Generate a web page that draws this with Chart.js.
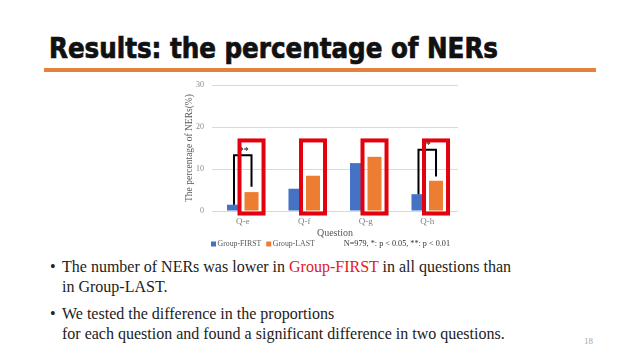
<!DOCTYPE html>
<html>
<head>
<meta charset="utf-8">
<script src="https://cdn.jsdelivr.net/npm/chart.js@4.4.1/dist/chart.umd.min.js"></script>
<style>
  html, body { margin: 0; padding: 0; background: #fff; }
  body { width: 640px; height: 360px; position: relative; overflow: hidden;
         font-family: "Liberation Serif", "Times New Roman", serif; color: #222; }
  #titulo { position: absolute; left: 49px; top: 35px; white-space: nowrap;
            font-family: "DejaVu Sans", sans-serif; font-stretch: condensed;
            font-weight: bold; font-size: 28px; line-height: 28px; color: #111;
            -webkit-text-stroke: 0.7px #111; transform-origin: 0 0; }
  #linha { position: absolute; left: 44px; top: 68px; width: 552px; height: 4px; background: #e5813e; }
  #caixa { position: absolute; left: 180px; top: 78px; width: 285px; height: 175px; }
  .item { position: absolute; left: 62px; white-space: nowrap;
          font-family: "Liberation Serif", "Times New Roman", serif; font-size: 16px; line-height: 19.5px; }
  .item::before { content: "\2022"; position: absolute; left: -12px; }
  .vermelho { color: #e0201b; }
  #pagina { position: absolute; left: 584px; top: 336px; font-size: 9px; color: #a6a6a6; }
</style>
</head>
<body>
<div id="titulo">Results: the percentage of NERs</div>
<div id="linha"></div>
<div id="caixa"><canvas id="grafico" width="285" height="175"></canvas></div>
<div class="item" style="top:257px">The number of NERs was lower in <span class="vermelho">Group-FIRST</span> in all questions than<br>in Group-LAST.</div>
<div class="item" style="top:304px">We tested the difference in the proportions<br>for each question and found a significant difference in two questions.</div>
<div id="pagina">18</div>
<script>
const categorias = ["Q-e", "Q-f", "Q-g", "Q-h"];
const grupoFirst = [1.5, 5.3, 11.4, 4.0];
const grupoLast = [4.5, 8.4, 12.9, 7.2];
const nomes = ["Group-FIRST", "Group-LAST"];
const ticksY = [0, 10, 20, 30];

// colchetes de significancia (valores em %)
const marcasSig = ["**", "", "", "*"];
const colcheteTopo = [13.3, null, null, 14.6];
const colcheteFim = [5.8, null, null, 8.2];

// caixas vermelhas em volta das barras Group-LAST
const caixaTopo = 16.8;
const caixaBase = -0.6;

const nota = "N=979, *: p < 0.05, **: p < 0.01";
const fonte = "'Liberation Serif', 'Times New Roman', serif";

// ajusta a largura do titulo
const titulo = document.getElementById("titulo");
const larguraTitulo = titulo.getBoundingClientRect().width;
titulo.style.transform = "scaleX(" + (449 / larguraTitulo) + ")";

const marcas = {
  id: "marcas",
  afterDatasetsDraw(chart) {
    const ctx = chart.ctx;
    const y = chart.scales.y;
    const azul = chart.getDatasetMeta(0).data;
    const laranja = chart.getDatasetMeta(1).data;
    ctx.save();
    ctx.strokeStyle = "#000";
    ctx.lineWidth = 2;
    ctx.fillStyle = "#000";
    ctx.font = "10px " + fonte;
    ctx.textAlign = "center";
    ctx.textBaseline = "bottom";
    categorias.forEach((c, i) => {
      if (colcheteTopo[i] == null) return;
      const x1 = azul[i].x;
      const x2 = laranja[i].x;
      const yt = y.getPixelForValue(colcheteTopo[i]);
      ctx.beginPath();
      ctx.moveTo(x1, azul[i].y);
      ctx.lineTo(x1, yt);
      ctx.lineTo(x2, yt);
      ctx.lineTo(x2, y.getPixelForValue(colcheteFim[i]));
      ctx.stroke();
      ctx.fillText(marcasSig[i], (x1 + x2) / 2 + 1, yt + 1);
    });
    ctx.strokeStyle = "#e3000f";
    ctx.lineWidth = 4;
    const topo = y.getPixelForValue(caixaTopo);
    const base = y.getPixelForValue(caixaBase);
    laranja.forEach((barra) => {
      const meia = barra.width / 2 + 5;
      ctx.strokeRect(barra.x - meia, topo, meia * 2, base - topo);
    });
    ctx.restore();
  },
};

const legenda = {
  id: "legenda",
  afterDraw(chart) {
    const ctx = chart.ctx;
    const area = chart.chartArea;
    const yl = area.bottom + 33;
    ctx.save();
    ctx.textBaseline = "middle";
    ctx.font = "7.8px " + fonte;
    let x = area.left - 1;
    chart.data.datasets.forEach((ds) => {
      ctx.fillStyle = ds.backgroundColor;
      ctx.fillRect(x, yl - 2.5, 5, 5);
      ctx.fillStyle = "#595959";
      ctx.textAlign = "left";
      ctx.fillText(ds.label, x + 6.5, yl);
      x += 6.5 + ctx.measureText(ds.label).width + 5;
    });
    ctx.font = "8.2px " + fonte;
    ctx.fillStyle = "#333";
    ctx.textAlign = "right";
    ctx.fillText(nota, area.right - 8, yl);
    ctx.restore();
  },
};

new Chart(document.getElementById("grafico"), {
  type: "bar",
  data: {
    labels: categorias,
    datasets: [
      { label: nomes[0], data: grupoFirst, backgroundColor: "#4472c4" },
      { label: nomes[1], data: grupoLast, backgroundColor: "#ed7d31" },
    ],
  },
  options: {
    responsive: false,
    animation: false,
    devicePixelRatio: 1,
    categoryPercentage: 0.57,
    barPercentage: 0.8,
    layout: { padding: { top: 7, right: 7, bottom: 14, left: 0 } },
    plugins: { legend: { display: false }, tooltip: { enabled: false } },
    scales: {
      x: {
        grid: { display: false, drawTicks: false },
        border: { display: false },
        ticks: { color: "#7f7f7f", font: { family: fonte, size: 9 }, padding: 5 },
        title: { display: true, text: "Question", color: "#595959", font: { family: fonte, size: 10 }, padding: 0 },
        afterFit: (s) => { s.height = 28; },
      },
      y: {
        min: 0,
        max: 30,
        afterBuildTicks: (s) => { s.ticks = ticksY.map((v) => ({ value: v })); },
        grid: { color: "#d9d9d9", drawTicks: false },
        border: { display: false },
        ticks: { color: "#8a8a8a", font: { family: fonte, size: 8 }, padding: 8 },
        title: { display: true, text: "The percentage of NERs(%)", color: "#595959", font: { family: fonte, size: 9.5 }, padding: { top: 4, bottom: 0 } },
        afterFit: (s) => { s.width = 32; s.paddingTop = 0; s.paddingBottom = 0; },
      },
    },
  },
  plugins: [marcas, legenda],
});
</script>
</body>
</html>
